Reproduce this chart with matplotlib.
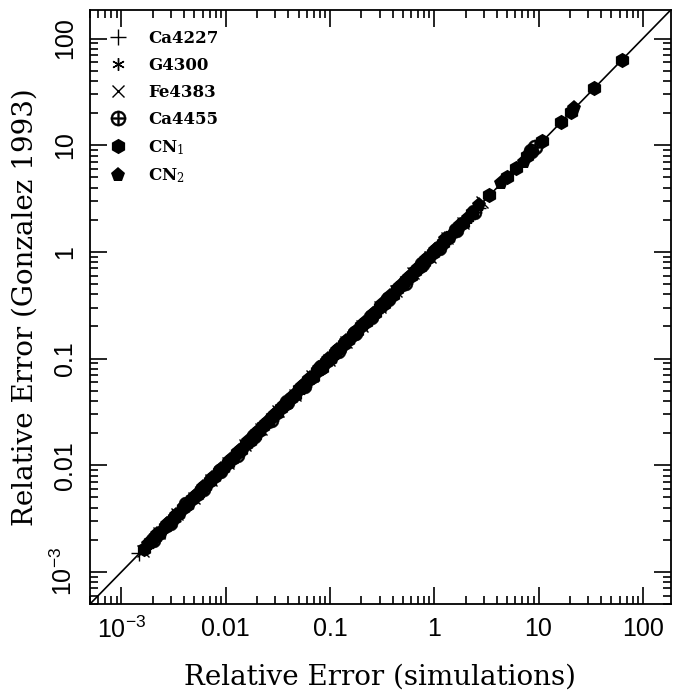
import matplotlib
matplotlib.use("Agg")
import matplotlib.pyplot as plt
from matplotlib.ticker import LogLocator, FixedFormatter, FixedLocator, NullFormatter

plt.rcParams['mathtext.fontset'] = 'dejavuserif'

# ---------------- data ----------------
ca4227_x = [0.00149, 0.0021, 0.0031, 0.0045, 0.0066, 0.0095, 0.0138, 0.020, 0.029, 0.042,
            0.061, 0.088, 0.128, 0.186, 0.27, 0.39, 0.57, 0.83, 1.2, 1.75, 2.6]
ca4227_y = [0.00150, 0.0021, 0.0030, 0.0046, 0.0065, 0.0096, 0.0136, 0.0203, 0.0288, 0.0425,
            0.060, 0.089, 0.126, 0.188, 0.266, 0.395, 0.56, 0.84, 1.18, 1.78, 2.55]

g4300_x = [0.0018, 0.0026, 0.0038, 0.0055, 0.0080, 0.0116, 0.0168, 0.0244, 0.035, 0.051,
           0.074, 0.107, 0.155, 0.225, 0.33, 0.47, 0.69, 1.0, 1.45, 2.1]
g4300_y = [0.0018, 0.0026, 0.0039, 0.0054, 0.0081, 0.0114, 0.0170, 0.0241, 0.0355, 0.050,
           0.075, 0.106, 0.157, 0.222, 0.334, 0.465, 0.70, 0.99, 1.47, 2.08]

fe4383_x = [0.0016, 0.0023, 0.0034, 0.0050, 0.0072, 0.0105, 0.0152, 0.022, 0.032, 0.046,
            0.067, 0.097, 0.141, 0.205, 0.30, 0.43, 0.63, 0.91, 1.32, 1.9, 2.9]
fe4383_y = [0.00158, 0.0023, 0.0035, 0.0049, 0.0073, 0.0104, 0.0154, 0.0218, 0.0325, 0.0455,
            0.068, 0.096, 0.143, 0.203, 0.305, 0.425, 0.64, 0.90, 1.34, 1.88, 2.95]

ca4455_x = [0.0020, 0.0029, 0.0042, 0.0061, 0.0088, 0.0128, 0.0186, 0.027, 0.039, 0.056,
            0.082, 0.119, 0.172, 0.25, 0.36, 0.52, 0.76, 1.1, 1.6, 2.4, 8.5, 9.2]
ca4455_y = [0.0020, 0.0029, 0.0043, 0.0060, 0.0089, 0.0126, 0.0188, 0.0266, 0.0395, 0.0555,
            0.083, 0.117, 0.174, 0.247, 0.365, 0.515, 0.77, 1.09, 1.62, 2.37, 8.8, 9.6]

cn1_x = [0.00166, 0.0019, 0.0021, 0.0023, 0.0026, 0.0029, 0.0032, 0.0035, 0.0039, 0.0043,
         0.0048, 0.0053, 0.0058, 0.0064, 0.0071, 0.0078, 0.0086, 0.0095, 0.0105, 0.0116,
         0.0128, 0.0141, 0.0156, 0.0172, 0.019, 0.021, 0.023, 0.0255, 0.028, 0.031,
         0.034, 0.038, 0.042, 0.046, 0.051, 0.056, 0.062, 0.068, 0.075, 0.083,
         0.092, 0.101, 0.112, 0.123, 0.136, 0.150, 0.165, 0.182, 0.200, 0.220,
         0.245, 0.270, 0.300, 0.330, 0.360, 0.400, 0.440, 0.490, 0.540, 0.600,
         0.660, 0.730, 0.800, 0.880, 0.970, 1.07, 1.20, 1.35, 1.60, 1.90,
         2.30, 3.37, 5.0, 6.07, 7.8, 10.9, 16.4, 20.4, 34.2, 63.0]
cn1_y = [0.00164, 0.0019, 0.00212, 0.00228, 0.00262, 0.00288, 0.00323, 0.00347, 0.00394, 0.00426,
         0.00485, 0.00525, 0.00586, 0.00634, 0.00717, 0.00773, 0.00869, 0.00941, 0.0106, 0.0115,
         0.0129, 0.0140, 0.0157, 0.0170, 0.0192, 0.0208, 0.0232, 0.0252, 0.0283, 0.0307,
         0.0343, 0.0376, 0.0424, 0.0455, 0.0515, 0.0554, 0.0626, 0.0673, 0.0758, 0.0822,
         0.0929, 0.100, 0.113, 0.122, 0.137, 0.149, 0.167, 0.180, 0.202, 0.218,
         0.247, 0.267, 0.303, 0.327, 0.364, 0.396, 0.444, 0.485, 0.545, 0.594,
         0.666, 0.723, 0.808, 0.871, 0.980, 1.06, 1.21, 1.34, 1.62, 1.88,
         2.33, 3.40, 5.05, 6.1, 7.9, 11.0, 16.6, 20.6, 34.5, 63.5]

cn2_x = [0.0018, 0.0020, 0.0022, 0.00245, 0.00275, 0.00305, 0.00335, 0.0037, 0.0041, 0.00455,
         0.00505, 0.0056, 0.0061, 0.00675, 0.00745, 0.0082, 0.0090, 0.0100, 0.0110, 0.0122,
         0.0134, 0.0148, 0.0164, 0.0181, 0.0200, 0.0220, 0.0242, 0.0267, 0.0295, 0.0325,
         0.036, 0.040, 0.044, 0.0485, 0.0535, 0.059, 0.065, 0.0715, 0.079, 0.087,
         0.096, 0.106, 0.117, 0.129, 0.143, 0.158, 0.174, 0.191, 0.210, 0.232,
         0.257, 0.285, 0.315, 0.345, 0.380, 0.420, 0.465, 0.515, 0.570, 0.630,
         0.695, 0.765, 0.840, 0.925, 1.02, 1.13, 1.28, 1.45, 1.75, 2.1,
         2.7, 4.4, 7.2, 8.45, 22.0]
cn2_y = [0.00184, 0.00196, 0.00226, 0.00240, 0.00281, 0.00299, 0.00342, 0.00362, 0.00419, 0.00446,
         0.00516, 0.00549, 0.00623, 0.00661, 0.00761, 0.00804, 0.00919, 0.00980, 0.0112, 0.0120,
         0.0137, 0.0145, 0.0168, 0.0177, 0.0204, 0.0216, 0.0247, 0.0262, 0.0301, 0.0319,
         0.0368, 0.0392, 0.0450, 0.0475, 0.0547, 0.0578, 0.0664, 0.0701, 0.0807, 0.0853,
         0.0981, 0.104, 0.120, 0.126, 0.146, 0.155, 0.178, 0.187, 0.215, 0.227,
         0.263, 0.279, 0.322, 0.338, 0.388, 0.412, 0.475, 0.505, 0.583, 0.617,
         0.710, 0.750, 0.858, 0.907, 1.04, 1.11, 1.31, 1.42, 1.79, 2.06,
         2.75, 4.45, 7.0, 8.6, 22.4]

series_labels = ['Ca4227', 'G4300', 'Fe4383', 'Ca4455', r'CN$_1$', r'CN$_2$']
axis_limits = [5e-4, 185.0]
tick_values = [1e-3, 1e-2, 1e-1, 1, 10, 100]
tick_labels = [r'$\mathdefault{10^{-3}}$', '0.01', '0.1', '1', '10', '100']

# ---------------- figure ----------------
fig = plt.figure(figsize=(6.93, 6.95), dpi=100)
ax = fig.add_axes([90 / 693, 91 / 695, 580.7 / 693, 594 / 695])

ax.plot(axis_limits, axis_limits, color='black', lw=1.2, zorder=1)

ax.plot(ca4227_x, ca4227_y, ls='none', marker='+', ms=11, mew=1.0, color='black', label=series_labels[0])
ax.plot(g4300_x, g4300_y, ls='none', marker=(6, 2, 0), ms=9, mew=1.0, color='black', label=series_labels[1])
ax.plot(fe4383_x, fe4383_y, ls='none', marker='x', ms=8, mew=1.0, color='black', label=series_labels[2])
ax.plot(ca4455_x, ca4455_y, ls='none', marker=r'$\oplus$', ms=11, mew=0.3, color='black', label=series_labels[3])
ax.plot(cn1_x, cn1_y, ls='none', marker='h', ms=11, color='black', mew=0, label=series_labels[4])
ax.plot(cn2_x, cn2_y, ls='none', marker='p', ms=11, color='black', mew=0, label=series_labels[5])

ax.set_xscale('log')
ax.set_yscale('log')
ax.set_xlim(axis_limits)
ax.set_ylim(axis_limits)

for axis in (ax.xaxis, ax.yaxis):
    axis.set_major_locator(FixedLocator(tick_values))
    axis.set_major_formatter(FixedFormatter(tick_labels))
    axis.set_minor_locator(LogLocator(base=10, subs=range(2, 10), numticks=20))
    axis.set_minor_formatter(NullFormatter())

ax.tick_params(which='both', direction='in', top=True, right=True, width=1.2, color='black')
ax.tick_params(which='major', length=12, labelsize=18, pad=9)
ax.tick_params(which='minor', length=6)
for lab in ax.get_xticklabels() + ax.get_yticklabels():
    lab.set_fontfamily('Liberation Sans')
for lab in ax.get_yticklabels():
    lab.set_rotation(90)
    lab.set_verticalalignment('center')

for s in ax.spines.values():
    s.set_linewidth(1.3)

ax.set_xlabel('Relative Error (simulations)', fontsize=20, family='DejaVu Serif')
ax.set_ylabel('Relative Error (Gonzalez 1993)', fontsize=20, family='DejaVu Serif')
ax.xaxis.set_label_coords(0.5, -0.100)
ax.yaxis.set_label_coords(-0.088, 0.5)

leg = ax.legend(loc='upper left', frameon=False, prop={'family': 'DejaVu Serif', 'weight': 'bold', 'size': 12},
                handlelength=1.0, handletextpad=1.3, labelspacing=0.6, borderaxespad=0.5,
                borderpad=0.7, numpoints=1)

fig.savefig('out.png', dpi=100)
